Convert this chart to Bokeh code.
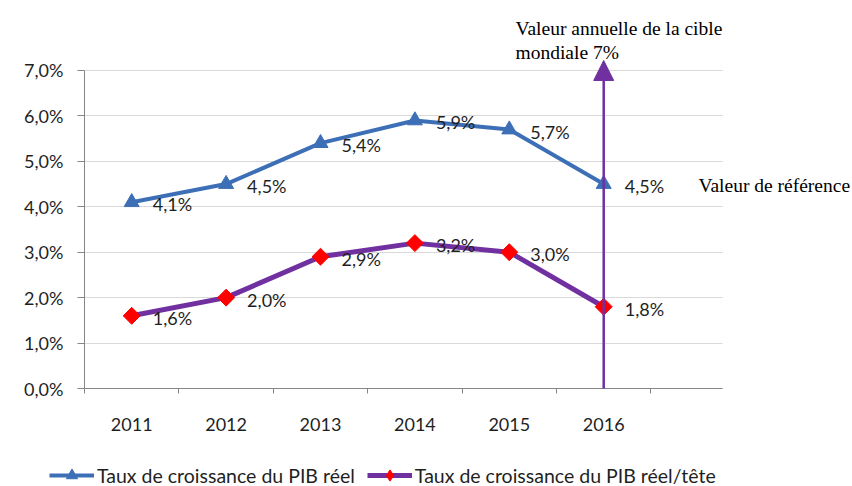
from bokeh.plotting import figure
from bokeh.models import (Range1d, FixedTicker, Legend, LegendItem, Label, Arrow,
                          NormalHead, BoxAnnotation)
from bokeh.core.properties import value
from bokeh.embed import file_html
from bokeh.resources import INLINE
import math

years = [2011, 2012, 2013, 2014, 2015, 2016]
pib_reel = [4.1, 4.5, 5.4, 5.9, 5.7, 4.5]
pib_tete = [1.6, 2.0, 2.9, 3.2, 3.0, 1.8]
series_names = ["Taux de croissance du PIB réel", "Taux de croissance du PIB réel/tête"]
y_ticks = [0, 1, 2, 3, 4, 5, 6, 7]
y_tick_labels = ["0,0%", "1,0%", "2,0%", "3,0%", "4,0%", "5,0%", "6,0%", "7,0%"]
target_value = 7.0
target_text = ["Valeur annuelle de la cible", "mondiale 7%"]
reference_text = "Valeur de référence"


def fmt(v):
    return ("%.1f" % v).replace(".", ",") + "%"


pib_labels = [fmt(v) for v in pib_reel]
tete_labels = [fmt(v) for v in pib_tete]

BLUE = "#3D6FB6"
PURPLE = "#7030A0"
RED = "#FF0000"
AXIS = "#868686"
TXT = "#1f1f1f"
FONT = "Lato"
SERIF = "Liberation Serif"

PX_X, PX_Y = 94.4, 45.43               # pixels per category / per percent
X0, X1 = years[0] - 0.5, years[0] - 0.5 + 638 / PX_X   # chart area

p = figure(width=852, height=486,
           x_range=Range1d(X0 - 84 / PX_X, X0 + 768 / PX_X),
           y_range=Range1d(-98 / PX_Y, 388 / PX_Y),
           output_backend="svg", toolbar_location=None, min_border=0)
p.outline_line_color = None
p.background_fill_color = "white"
p.border_fill_color = "white"

p.xgrid.visible = False
p.ygrid.ticker = FixedTicker(ticks=y_ticks)
p.ygrid.grid_line_color = "#D9D9D9"
p.ygrid.grid_line_width = 1

# keep grid lines inside the chart area
p.add_layout(BoxAnnotation(right=X0, fill_color="white", fill_alpha=1.0,
                           line_color=None, level="underlay"))
p.add_layout(BoxAnnotation(left=X1, fill_color="white", fill_alpha=1.0,
                           line_color=None, level="underlay"))

ya = p.yaxis[0]
ya.fixed_location = X0
ya.ticker = FixedTicker(ticks=y_ticks)
ya.major_label_overrides = {t: lab for t, lab in zip(y_ticks, y_tick_labels)}
ya.bounds = (0, target_value)
ya.axis_line_color = AXIS
ya.major_tick_line_color = AXIS
ya.major_tick_out = 7
ya.major_tick_in = 0
ya.minor_tick_line_color = None
ya.major_label_standoff = 14
ya.major_label_text_font = FONT
ya.major_label_text_font_size = "18px"
ya.major_label_text_color = TXT

xa = p.xaxis[0]
xa.fixed_location = 0
xa.ticker = FixedTicker(ticks=years, minor_ticks=[y - 0.5 for y in years] + [years[-1] + 0.5])
xa.major_label_overrides = {y: str(y) for y in years}
xa.bounds = (X0, X1)
xa.axis_line_color = AXIS
xa.major_tick_out = 0
xa.major_tick_in = 0
xa.minor_tick_out = 5
xa.minor_tick_in = 0
xa.minor_tick_line_color = AXIS
xa.major_label_standoff = 24
xa.major_label_text_font = FONT
xa.major_label_text_font_size = "18px"
xa.major_label_text_color = TXT

l1 = p.line(years, pib_reel, line_color=BLUE, line_width=4)
s1 = p.scatter(years, pib_reel, marker="triangle", size=15, fill_color=BLUE, line_color=BLUE)
l2 = p.line(years, pib_tete, line_color=PURPLE, line_width=5)
# diamond used for the legend (hidden under the larger rotated squares in the plot)
s2_leg = p.scatter(years, pib_tete, marker="diamond", size=14, fill_color=RED, line_color=RED)
s2 = p.scatter(years, pib_tete, marker="square", angle=math.pi / 4, size=12,
               fill_color=RED, line_color=RED)

p.text(years, pib_reel, text=pib_labels, x_offset=21, y_offset=2,
       text_font=value(FONT), text_font_size="18px", text_baseline="middle",
       text_align="left", text_color=TXT)
p.text(years, pib_tete, text=tete_labels, x_offset=21, y_offset=2,
       text_font=value(FONT), text_font_size="18px", text_baseline="middle",
       text_align="left", text_color=TXT)

arrow = Arrow(end=NormalHead(size=20, fill_color=PURPLE, line_color=PURPLE),
              x_start=years[-1], y_start=0, x_end=years[-1], y_end=target_value + 0.22,
              line_color=PURPLE, line_width=2.5)
p.add_layout(arrow)

p.add_layout(Label(x=2015.066, y=7.924, text=target_text[0], text_font=SERIF,
                   text_font_size="19.5px", text_color="black", text_baseline="alphabetic"))
p.add_layout(Label(x=2015.066, y=7.396, text=target_text[1], text_font=SERIF,
                   text_font_size="19.5px", text_color="black", text_baseline="alphabetic"))
p.add_layout(Label(x=2017.004, y=4.468, text=reference_text, text_font=SERIF,
                   text_font_size="19.5px", text_color="black", text_baseline="middle"))

legend = Legend(items=[LegendItem(label=series_names[0], renderers=[l1, s1]),
                       LegendItem(label=series_names[1], renderers=[l2, s2_leg])],
                orientation="horizontal", location=(49, -3),
                border_line_color=None, background_fill_alpha=0,
                glyph_width=45, glyph_height=28, label_height=28,
                label_text_font=FONT, label_text_font_size="19.5px",
                label_text_color=TXT, spacing=12, padding=0, margin=0,
                label_standoff=3)
p.add_layout(legend)

open("out.html", "w").write(file_html(p, INLINE))
